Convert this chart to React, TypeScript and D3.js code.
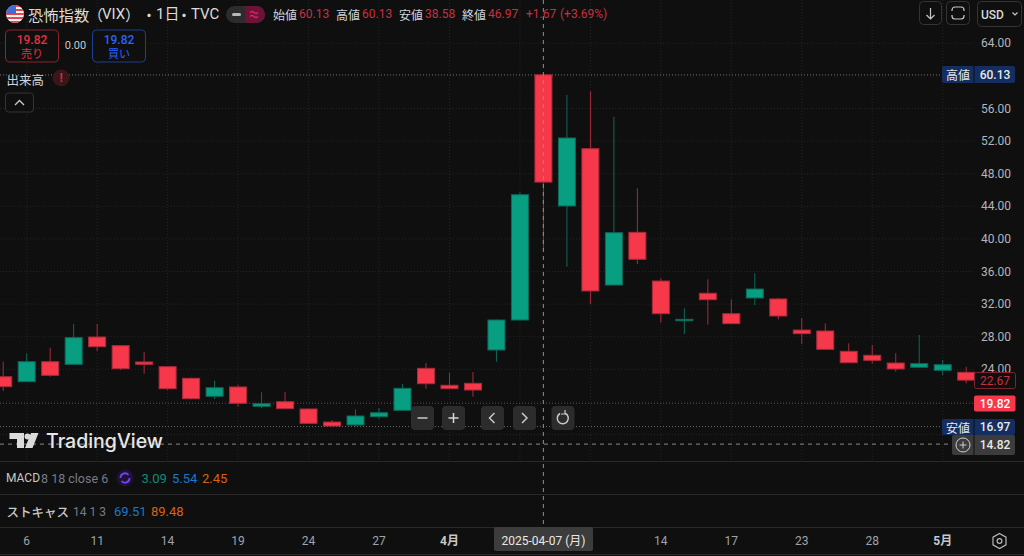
import React from "react";
import * as d3 from "d3";

const opens = [23.09,22.48,24.93,24.61,27.96,26.90,24.90,24.32,22.90,20.69,21.83,19.46,20.02,19.13,17.53,17.17,18.18,18.97,24.12,22.04,22.28,26.37,30.05,60.13,44.04,51.07,34.34,40.81,34.83,29.96,33.33,30.82,32.75,32.63,28.82,28.70,26.21,25.72,24.77,24.25,23.88,23.63];
const highs = [24.93,25.96,26.65,29.56,29.56,26.92,26.12,24.40,22.97,22.60,22.11,21.18,21.21,19.15,17.78,19.09,19.25,22.20,24.77,23.58,23.67,30.10,45.72,60.13,57.66,58.11,54.99,46.21,35.17,31.48,35.04,32.59,35.78,32.75,30.29,29.64,27.19,26.98,26.00,28.21,25.14,24.32];
const lows = [21.34,22.40,23.09,24.55,26.25,23.91,23.46,21.46,20.31,20.36,19.41,19.25,19.15,17.35,17.00,16.97,17.94,18.88,21.62,21.58,20.64,24.93,30.00,38.58,36.59,31.98,34.30,36.92,29.72,28.33,29.47,29.58,31.89,30.13,27.10,26.42,24.78,24.69,23.71,24.22,23.30,22.28];
const closes = [21.87,24.93,23.26,27.88,26.77,24.07,24.61,21.62,20.39,21.74,19.83,19.78,19.17,17.37,17.04,18.27,18.67,21.67,22.23,21.62,21.46,30.05,45.42,46.97,52.38,33.61,40.76,37.50,30.82,30.13,32.54,29.60,33.85,30.54,28.37,26.45,24.81,25.10,24.04,24.69,24.56,22.67];

const timeTicks: [number, string, boolean][] = [[1,"6",false],[4,"11",false],[7,"14",false],[10,"19",false],[13,"24",false],[16,"27",false],[19,"4月",true],[28,"14",false],[31,"17",false],[34,"23",false],[37,"28",false],[40,"5月",true]];
const hiddenGridBars = [22, 25];
const priceTicks = [64,56,52,48,44,40,36,32,28,24];
const gridPrices = [64,60,56,52,48,44,40,36,32,28,24,20,16];
const crosshairBar = 23;
const highPrice = 60.13, lowPrice = 16.97, markPrice = 19.82, lastPrice = 22.67, crossPrice = 14.82;

const y = d3.scaleLinear().domain([24, 64]).range([369.3, 43.3]);
const x = d3.scaleLinear().domain([0, 41]).range([3.2, 966.2]);

const UP = "#089e82", DOWN = "#f7374a", BG = "#0f0f0f";
const JP = "'Noto Sans CJK JP','Noto Sans',sans-serif";
const LAT = "Roboto,'Noto Sans CJK JP',sans-serif";

function T({ x, y, c = "#d1d4dc", s = 12, a = "start", w = 400, f = LAT, children }: any) {
  return <text x={x} y={y} fill={c} fontSize={s} textAnchor={a} fontWeight={w} fontFamily={f} dominantBaseline="central">{children}</text>;
}

function Btn({ x, w, children }: any) {
  return <g><rect x={x} y={406} width={w} height={24} rx={4} fill="#2c2c2c" />{children}</g>;
}

export default function App() {
  const line = d3.line();
  const W = 1024, H = 556;
  return (
    <svg width={W} height={H} viewBox={`0 0 ${W} ${H}`} style={{ position: "fixed", left: 0, top: 0, display: "block", background: BG }}>
      <defs><clipPath id="flag"><circle cx={15} cy={14} r={9} /></clipPath></defs>

      {/* grid */}
      {gridPrices.map((p) => <line key={p} x1={0} x2={973} y1={y(p)} y2={y(p)} stroke="#242424" strokeDasharray="1 2" />)}
      {[...timeTicks.map((t) => t[0]), ...hiddenGridBars].map((b) => <line key={b} x1={x(b)} x2={x(b)} y1={0} y2={461} stroke="#242424" strokeDasharray="1 2" />)}

      {/* level lines */}
      <line x1={0} x2={943} y1={y(highPrice)} y2={y(highPrice)} stroke="#6a6a6a" strokeDasharray="1 2" />
      <line x1={0} x2={943} y1={y(lowPrice)} y2={y(lowPrice)} stroke="#6a6a6a" strokeDasharray="1 2" />
      <line x1={0} x2={974} y1={y(markPrice)} y2={y(markPrice)} stroke="#8c2a35" strokeDasharray="1 2" />

      {/* candles */}
      {opens.map((o, i) => {
        const up = closes[i] >= o;
        const top = y(Math.max(o, closes[i])), bot = y(Math.min(o, closes[i]));
        const cx = x(i);
        return (
          <g key={i}>
            <path d={line([[cx, y(highs[i])], [cx, y(lows[i])]]) as string} stroke={up ? "#0c6a5a" : "#a92b3b"} strokeWidth={1} />
            <rect x={cx - 8.5} y={top} width={17} height={Math.max(bot - top, 1)} fill={up ? UP : DOWN} stroke={up ? "#0c6a5a" : "#a92b3b"} strokeWidth={1} />
          </g>
        );
      })}

      {/* crosshair */}
      <line x1={x(crosshairBar)} x2={x(crosshairBar)} y1={0} y2={527} stroke="#909090" strokeDasharray="4 4" strokeWidth={1.2} opacity={0.85} />
      <line x1={0} x2={952} y1={y(crossPrice)} y2={y(crossPrice)} stroke="#8a8a8a" strokeDasharray="4 4" />

      {/* separators */}
      {[461.5, 494.5, 527.5, 554.5].map((v) => <line key={v} x1={0} x2={W} y1={v} y2={v} stroke="#2a2a2a" />)}

      {/* price axis */}
      {priceTicks.map((p) => <T key={p} x={996} y={y(p)} a="middle" c="#b2b5be">{p.toFixed(2)}</T>)}
      <rect x={942} y={66} width={73} height={17} rx={2} fill="#142e61" />
      <line x1={974} x2={974} y1={66} y2={83} stroke="#0f0f0f" />
      <T x={958} y={74.5} a="middle" c="#e8e8e8" f={JP} s={12}>高値</T>
      <T x={995} y={74.5} a="middle" c="#e8e8e8" w={500}>{highPrice.toFixed(2)}</T>
      <rect x={974.5} y={372.5} width={41} height={16} rx={2} fill={BG} stroke="#7d2430" />
      <T x={995} y={380.5} a="middle" c="#c8303f">{lastPrice.toFixed(2)}</T>
      <rect x={974} y={395.5} width={41.5} height={16} rx={2} fill={DOWN} />
      <T x={995} y={403.5} a="middle" c="#ffffff" w={500}>{markPrice.toFixed(2)}</T>
      <rect x={942} y={419} width={73} height={16} rx={2} fill="#142e61" />
      <line x1={974} x2={974} y1={419} y2={435} stroke="#0f0f0f" />
      <T x={958} y={427} a="middle" c="#e8e8e8" f={JP} s={12}>安値</T>
      <T x={995} y={427} a="middle" c="#e8e8e8" w={500}>{lowPrice.toFixed(2)}</T>
      <rect x={952} y={435} width={63} height={20} rx={2} fill="#3c3c3c" />
      <line x1={974} x2={974} y1={435} y2={455} stroke="#0f0f0f" />
      <circle cx={963} cy={445} r={7} fill="none" stroke="#d0d0d0" />
      <path d="M959.5 445H966.5M963 441.5V448.5" stroke="#d0d0d0" />
      <T x={995} y={445} a="middle" c="#e8e8e8" w={500}>{crossPrice.toFixed(2)}</T>

      {/* time axis */}
      {timeTicks.map(([b, l, bold]) => <T key={b} x={x(b)} y={540.5} a="middle" c={bold ? "#c8c8c8" : "#a0a3ab"} w={bold ? 700 : 400} f={LAT}>{l}</T>)}
      <rect x={494} y={527} width={99} height={24} rx={2} fill="#3c3c3c" />
      <T x={543.5} y={540.5} a="middle" c="#e8e8e8" w={400}>2025-04-07 (月)</T>
      <path d="M999.5 533.5L1006 537.2V544.8L999.5 548.5L993 544.8V537.2Z" fill="none" stroke="#b8b8b8" strokeWidth={1.2} />
      <circle cx={999.5} cy={541} r={2.4} fill="none" stroke="#b8b8b8" strokeWidth={1.2} />

      {/* flag */}
      <g clipPath="url(#flag)">
        <rect x={6} y={5} width={18} height={18} fill="#f4f4f4" />
        {[5, 9, 13, 17, 21].map((v) => <rect key={v} x={6} y={v} width={18} height={2} fill="#e8464f" />)}
        <rect x={6} y={5} width={10} height={9} fill="#3f6ed8" />
      </g>
      <T x={28} y={14} s={15.3} c="#dbdbdb" f={JP}>恐怖指数</T>
      <T x={88} y={14} s={15} c="#dbdbdb" f={JP}>（</T>
      <T x={102} y={14} s={15} c="#dbdbdb">VIX</T>
      <T x={125} y={14} s={15} c="#dbdbdb" f={JP}>）</T>
      <T x={149} y={14} s={15} a="middle" c="#dbdbdb" f={JP}>・</T>
      <T x={156} y={14} s={15} c="#dbdbdb">1日</T>
      <T x={184} y={14} s={15} a="middle" c="#dbdbdb" f={JP}>・</T>
      <T x={191} y={14} s={15} c="#dbdbdb">TVC</T>

      <rect x={226} y={6} width={39} height={17} rx={8.5} fill="#2c2c2c" />
      <path d="M245.5 6H256.5a8.5 8.5 0 0 1 0 17H245.5Z" fill="#6e1238" />
      <rect x={232} y={13} width={9} height={3} rx={1.5} fill="#b8b8b8" />
      <path d="M250 12.5q2 -2 4 0t4 0M250 16.5q2 -2 4 0t4 0" stroke="#e0245e" fill="none" strokeWidth={1.2} />

      <T x={273} y={14} f={JP}>始値</T><T x={299} y={14} c="#c8303f">60.13</T>
      <T x={336} y={14} f={JP}>高値</T><T x={362} y={14} c="#c8303f">60.13</T>
      <T x={399} y={14} f={JP}>安値</T><T x={425} y={14} c="#c8303f">38.58</T>
      <T x={462} y={14} f={JP}>終値</T><T x={488} y={14} c="#c8303f">46.97</T>
      <T x={526} y={14} c="#c8303f">+1.67</T><T x={560} y={14} c="#c8303f">(+3.69%)</T>

      {/* buy sell */}
      <rect x={5.5} y={30} width={53} height={32} rx={4} fill={BG} stroke="#8a2530" />
      <T x={32} y={40} a="middle" c="#e5303f" w={500}>19.82</T>
      <T x={32} y={53} a="middle" c="#e5303f" f={JP} s={11}>売り</T>
      <T x={75.5} y={45.5} a="middle" s={11} c="#c8c8c8">0.00</T>
      <rect x={92.5} y={30} width={53} height={32} rx={4} fill={BG} stroke="#1e3f8f" />
      <T x={119} y={40} a="middle" c="#2962ff" w={500}>19.82</T>
      <T x={119} y={53} a="middle" c="#2962ff" f={JP} s={11}>買い</T>

      <T x={6.5} y={79} s={12.5} c="#d1d4dc" f={JP}>出来高</T>
      <circle cx={61} cy={78} r={8.5} fill="#3a1519" />
      <T x={61} y={78} a="middle" c="#d12f3c" w={700} s={12}>!</T>
      <rect x={5.5} y={93} width={28} height={19} rx={3} fill={BG} stroke="#343434" />
      <path d="M15 105L19.5 100.5L24 105" fill="none" stroke="#c8c8c8" strokeWidth={1.4} />

      {/* top-right buttons */}
      <rect x={919.5} y={1.5} width={22} height={23} rx={4} fill={BG} stroke="#343434" />
      <path d="M930.5 8V19M926.5 15L930.5 19L934.5 15" fill="none" stroke="#c8c8c8" strokeWidth={1.2} />
      <rect x={946.5} y={1.5} width={23} height={23} rx={4} fill={BG} stroke="#343434" />
      <path d="M952 11V10a3 3 0 0 1 3-3H961a3 3 0 0 1 3 3V11M952 15V16a3 3 0 0 0 3 3H961a3 3 0 0 0 3-3V15" fill="none" stroke="#c8c8c8" strokeWidth={1.2} />
      <rect x={977.5} y={1.5} width={44} height={25} rx={4} fill={BG} stroke="#343434" />
      <T x={981} y={14.5} c="#d8d8d8" w={500}>USD</T>
      <path d="M1012.5 12.5L1015 15L1017.5 12.5" fill="none" stroke="#c8c8c8" strokeWidth={1.2} />

      {/* navigation */}
      <Btn x={411} w={23}><path d="M417.5 418H427.5" stroke="#c8c8c8" strokeWidth={1.5} /></Btn>
      <Btn x={442} w={23}><path d="M448.5 418H458.5M453.5 413V423" stroke="#d8d8d8" strokeWidth={1.5} /></Btn>
      <Btn x={481} w={23}><path d="M494.5 413L489.5 418L494.5 423" fill="none" stroke="#c8c8c8" strokeWidth={1.5} /></Btn>
      <Btn x={513} w={23}><path d="M522 413L527 418L522 423" fill="none" stroke="#c8c8c8" strokeWidth={1.5} /></Btn>
      <Btn x={551.5} w={23}>
        <path d="M560 413.5a5.5 5.5 0 1 0 5 -0.3" fill="none" stroke="#c8c8c8" strokeWidth={1.5} />
        <path d="M565 410V414H561" fill="none" stroke="#c8c8c8" strokeWidth={1.2} />
      </Btn>

      {/* logo */}
      <g fill="#e6e6e6" opacity={0.95}>
        <path d="M9.5 433H24V448H17V439H9.5Z" />
        <circle cx={27.5} cy={436.5} r={3} />
        <path d="M31 433H38.5L32.5 448H25Z" />
      </g>
      <T x={46} y={441} s={19.5} c="#e6e6e6" w={500} f="Inter,Roboto,sans-serif">TradingView</T>

      {/* panes */}
      <T x={6} y={478} c="#c8c8c8" w={400}>MACD</T>
      <T x={41} y={478} s={12.5} c="#787b86">8 18 close 6</T>
      <circle cx={125} cy={478} r={8.5} fill="#1d1238" />
      <path d="M120.5 478a4.5 4.5 0 0 1 8 -3M129.5 478a4.5 4.5 0 0 1 -8 3" fill="none" stroke="#7b3ff2" strokeWidth={1.8} />
      <T x={141.5} y={478} s={13} c="#0f8a78">3.09</T>
      <T x={172} y={478} s={13} c="#1a78c8">5.54</T>
      <T x={202} y={478} s={13} c="#d8620f">2.45</T>
      <T x={6.5} y={511.5} c="#c8c8c8" f={JP} s={12.5} w={500}>ストキャス</T>
      <T x={73} y={511.5} c="#787b86">14 1 3</T>
      <T x={114} y={511.5} s={13} c="#1a78c8">69.51</T>
      <T x={151} y={511.5} s={13} c="#d8620f">89.48</T>
    </svg>
  );
}
